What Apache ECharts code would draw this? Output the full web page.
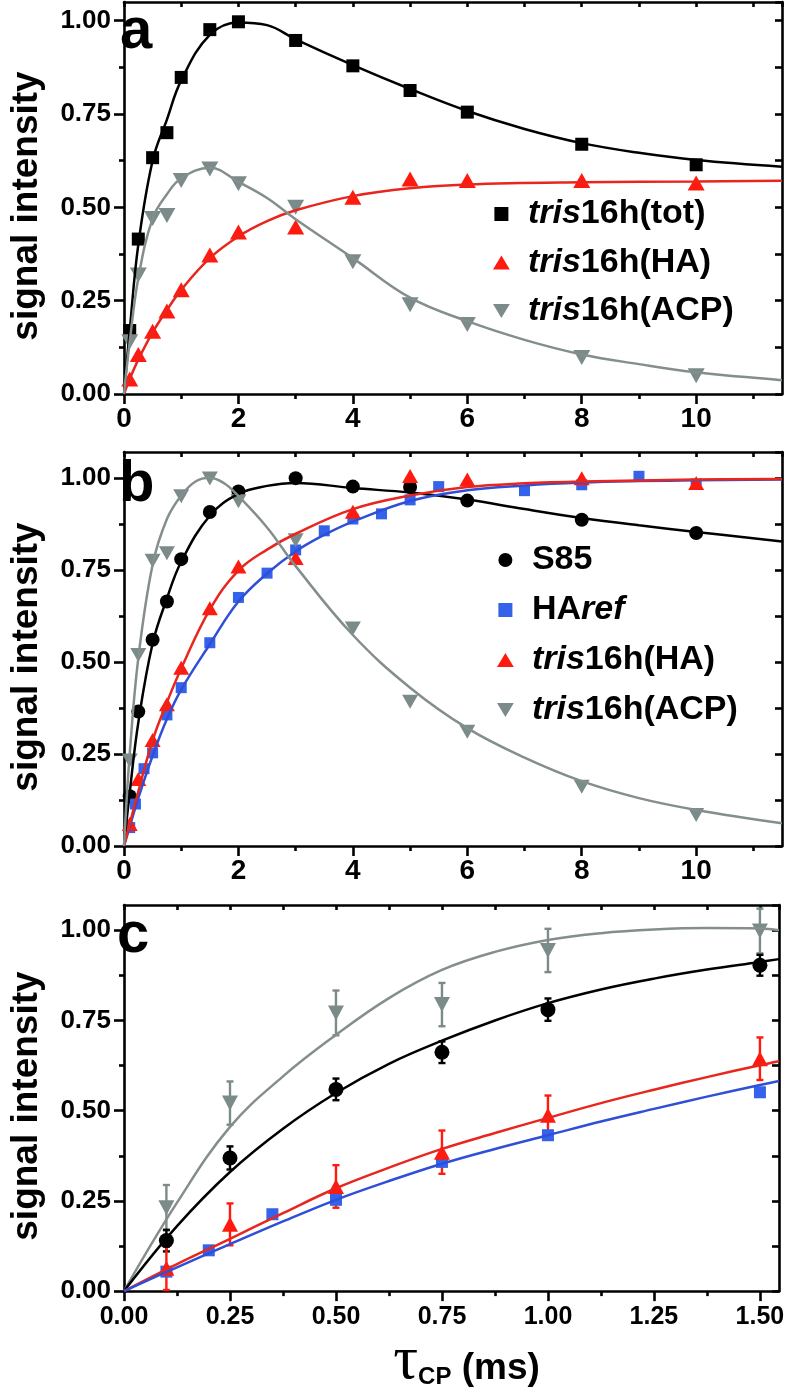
<!DOCTYPE html>
<html><head><meta charset="utf-8">
<script src="https://cdn.jsdelivr.net/npm/echarts@6/dist/echarts.min.js"></script>
<style>html,body{margin:0;padding:0;background:#fff}#c{width:787px;height:1394px}</style>
</head><body><div id="c"></div>
<script>
// ---------- Panel a ----------
const aX    = [0.1, 0.25, 0.5, 0.75, 1, 1.5, 2, 3, 4, 5, 6, 8, 10];
const aTot  = [0.17, 0.415, 0.633, 0.70, 0.848, 0.976, 0.997, 0.947, 0.879, 0.813, 0.755, 0.669, 0.614];
const aHA   = [0.04, 0.106, 0.168, 0.222, 0.279, 0.372, 0.434, 0.447, 0.527, 0.576, 0.572, 0.572, 0.565];
const aACP  = [0.14, 0.319, 0.47, 0.478, 0.572, 0.603, 0.563, 0.50, 0.354, 0.239, 0.186, 0.098, 0.049];
const aTotFit = [[0,0],[0.1,0.17],[0.25,0.40],[0.5,0.625],[0.75,0.735],[1,0.84],[1.5,0.962],[2,0.995],[2.5,0.988],[3,0.95],[4,0.881],[5,0.817],[6,0.758],[7,0.71],[8,0.672],[9,0.646],[10,0.627],[11.5,0.609]];
const aHAFit  = [[0,0],[0.1,0.04],[0.25,0.092],[0.5,0.165],[0.75,0.225],[1,0.279],[1.5,0.364],[2,0.422],[2.5,0.463],[3,0.492],[4,0.53],[5,0.551],[6,0.561],[8,0.567],[10,0.569],[11.5,0.571]];
const aACPFit = [[0,0],[0.1,0.14],[0.25,0.31],[0.5,0.47],[0.75,0.535],[1,0.578],[1.5,0.606],[2,0.568],[2.5,0.525],[3,0.468],[4,0.364],[5,0.258],[6,0.195],[7,0.145],[8,0.106],[9,0.08],[10,0.058],[11.5,0.037]];

// ---------- Panel b ----------
const bX    = [0.1, 0.25, 0.5, 0.75, 1, 1.5, 2, 3, 4, 5, 6, 8, 10];
const bS85  = [0.135, 0.365, 0.56, 0.664, 0.779, 0.907, 0.963, 0.999, 0.976, 0.975, 0.938, 0.886, 0.85];
const bHA   = [0.06, 0.182, 0.288, 0.385, 0.484, 0.646, 0.759, 0.782, 0.908, 1.005, 0.995, 0.999, 0.986];
const bACP  = [0.232, 0.519, 0.775, 0.795, 0.95, 0.998, 0.936, 0.83, 0.591, 0.392, 0.31, 0.161, 0.084];
const bRefX = [0.1, 0.2, 0.35, 0.5, 0.75, 1, 1.5, 2, 2.5, 3, 3.5, 4, 4.5, 5, 5.5, 7, 8, 9, 10];
const bRef  = [0.05, 0.114, 0.21, 0.253, 0.356, 0.43, 0.552, 0.675, 0.741, 0.804, 0.856, 0.888, 0.902, 0.94, 0.976, 0.965, 0.981, 1.004, 0.983];
const bS85Fit = [[0,0],[0.1,0.145],[0.25,0.335],[0.5,0.55],[0.75,0.672],[1,0.772],[1.5,0.897],[2,0.956],[2.5,0.978],[3,0.986],[4,0.972],[5,0.96],[6,0.941],[7,0.915],[8,0.891],[9,0.871],[10,0.853],[11.5,0.827]];
const bRefFit = [[0,0],[0.1,0.052],[0.25,0.13],[0.5,0.245],[0.75,0.345],[1,0.425],[1.5,0.548],[2,0.664],[2.5,0.74],[3,0.8],[3.5,0.845],[4,0.881],[5,0.937],[6,0.966],[7,0.979],[8,0.987],[9,0.991],[10,0.993],[11.5,0.995]];
const bHAFit  = [[0,0],[0.1,0.06],[0.25,0.148],[0.5,0.287],[0.75,0.39],[1,0.482],[1.5,0.642],[2,0.748],[2.5,0.805],[3,0.848],[4,0.915],[5,0.952],[6,0.975],[7,0.985],[8,0.99],[10,0.995],[11.5,0.997]];
const bACPFit = [[0,0],[0.1,0.25],[0.25,0.51],[0.5,0.764],[0.75,0.888],[1,0.952],[1.25,0.99],[1.5,1.0],[1.75,0.985],[2,0.95],[2.5,0.865],[3,0.76],[4,0.573],[5,0.43],[6,0.32],[7,0.24],[8,0.176],[9,0.13],[10,0.098],[11.5,0.062]];

// ---------- Panel c ----------
const cX      = [0.1, 0.25, 0.5, 0.75, 1, 1.5];
const cS85    = [0.14, 0.369, 0.559, 0.662, 0.78, 0.903];
const cS85Err = [0.03, 0.032, 0.03, 0.03, 0.031, 0.029];
const cACP    = [0.231, 0.521, 0.771, 0.794, 0.944, 0.998];
const cACPErr = [0.063, 0.06, 0.062, 0.06, 0.06, 0.062];
const cHA     = [0.063, 0.185, 0.29, 0.385, 0.487, 0.644];
const cHAErr  = [0.06, 0.058, 0.059, 0.06, 0.055, 0.059];
const cRefX   = [0.1, 0.2, 0.35, 0.5, 0.75, 1, 1.5];
const cRef    = [0.054, 0.113, 0.213, 0.253, 0.358, 0.432, 0.551];
const cACPFit = [[0,0],[0.125,0.245],[0.25,0.455],[0.375,0.595],[0.5,0.71],[0.625,0.812],[0.75,0.89],[0.875,0.94],[1,0.973],[1.125,0.992],[1.25,1.002],[1.375,1.006],[1.5,1.005],[1.545,1.0]];
const cS85Fit = [[0,0],[0.125,0.18],[0.25,0.33],[0.375,0.45],[0.5,0.549],[0.625,0.63],[0.75,0.694],[0.875,0.75],[1,0.798],[1.125,0.836],[1.25,0.866],[1.375,0.891],[1.5,0.912],[1.545,0.92]];
const cHAFit  = [[0,0],[0.125,0.075],[0.25,0.145],[0.375,0.216],[0.5,0.285],[0.625,0.342],[0.75,0.394],[0.875,0.438],[1,0.48],[1.125,0.521],[1.25,0.558],[1.375,0.593],[1.5,0.626],[1.545,0.637]];
const cRefFit = [[0,0],[0.125,0.066],[0.25,0.13],[0.375,0.193],[0.5,0.253],[0.625,0.305],[0.75,0.353],[0.875,0.394],[1,0.432],[1.125,0.47],[1.25,0.505],[1.375,0.539],[1.5,0.571],[1.545,0.582]];

// ---------- Ticks / labels ----------
const abXTicks = [0, 2, 4, 6, 8, 10];
const abXMinor = [1, 3, 5, 7, 9, 11];
const cXTicks  = [0, 0.25, 0.5, 0.75, 1, 1.25, 1.5];
const cXMinor  = [0.125, 0.375, 0.625, 0.875, 1.125, 1.375];
const yTicks   = [0, 0.25, 0.5, 0.75, 1];
const yMinor   = [0.125, 0.375, 0.625, 0.875];
const panelLetters = ['a', 'b', 'c'];
const yTitle = 'signal intensity';
const legendA = ['tris16h(tot)', 'tris16h(HA)', 'tris16h(ACP)'];
const legendB = ['S85', 'HAref', 'tris16h(HA)', 'tris16h(ACP)'];

// ---------- Styles ----------
const FONT = '"Liberation Sans", Arial, Helvetica, sans-serif';
const BLACK = '#000000', RED = '#ff1a10', REDL = '#e8261d', BLUE = '#3462ea', BLUEL = '#2f4fd6', GRAY = '#7b8b89', GRAYL = '#848e8d';
const AX = {color: '#000', width: 2.6};

const zip = (xs, ys) => xs.map((x, i) => [x, ys[i]]);

function xAxesFor(g, max, ticks, minors, fmt, fs, margin, topInterval, extra) {
  return [
    Object.assign({type: 'value', gridIndex: g, position: 'bottom', min: 0, max: max,
      axisLine: {show: true, onZero: false, lineStyle: AX},
      axisTick: {show: true, length: 10, lineStyle: AX, customValues: ticks},
      axisLabel: {show: true, customValues: ticks, formatter: fmt, fontSize: fs, fontWeight: 'bold', fontFamily: FONT, color: '#000', margin: margin},
      splitLine: {show: false}}, extra || {}),
    {type: 'value', gridIndex: g, position: 'bottom', min: 0, max: max,
      axisLine: {show: false, onZero: false},
      axisTick: {show: true, length: 5, lineStyle: AX, customValues: minors},
      axisLabel: {show: false}, splitLine: {show: false}},
    {type: 'value', gridIndex: g, position: 'top', min: 0, max: max, interval: topInterval,
      axisLine: {show: true, onZero: false, lineStyle: AX},
      axisTick: {show: true, inside: true, length: 5, lineStyle: AX},
      axisLabel: {show: false}, splitLine: {show: false}}
  ];
}
function yAxesFor(g, max) {
  return [
    {type: 'value', gridIndex: g, position: 'left', min: 0, max: max,
      axisLine: {show: true, onZero: false, lineStyle: AX},
      axisTick: {show: true, length: 10, lineStyle: AX, customValues: yTicks},
      axisLabel: {show: true, customValues: yTicks, formatter: v => v.toFixed(2), fontSize: 26, fontWeight: 'bold', fontFamily: FONT, color: '#000', margin: 13},
      splitLine: {show: false},
      name: yTitle, nameLocation: 'middle', nameGap: 79, nameRotate: 90,
      nameTextStyle: {fontSize: 37, fontWeight: 'bold', fontFamily: FONT, color: '#000', padding: [0, 16, 0, 0]}},
    {type: 'value', gridIndex: g, position: 'left', min: 0, max: max,
      axisLine: {show: false, onZero: false},
      axisTick: {show: true, length: 5, lineStyle: AX, customValues: yMinor},
      axisLabel: {show: false}, splitLine: {show: false}},
    {type: 'value', gridIndex: g, position: 'right', min: 0, max: max, interval: 0.125,
      axisLine: {show: true, onZero: false, lineStyle: AX},
      axisTick: {show: true, inside: true, length: 7, lineStyle: AX},
      axisLabel: {show: false}, splitLine: {show: false}}
  ];
}

function scatter(g, name, data, symbol, size, color, rotate) {
  return {type: 'scatter', name: name, xAxisIndex: 3 * g, yAxisIndex: 3 * g, data: data,
    symbol: symbol, symbolSize: size, symbolRotate: rotate || 0,
    itemStyle: {color: color, opacity: 1}, z: 3, silent: true};
}
function fit(g, data, color) {
  return {type: 'line', xAxisIndex: 3 * g, yAxisIndex: 3 * g, data: data, smooth: 0.4,
    showSymbol: false, symbol: 'none', lineStyle: {color: color, width: 2.5}, z: 4, silent: true};
}
function errBars(g, xs, ys, es, color) {
  return {type: 'custom', xAxisIndex: 3 * g, yAxisIndex: 3 * g, silent: true, z: 2,
    data: xs.map((x, i) => [x, ys[i] - es[i], ys[i] + es[i]]),
    encode: {x: 0, y: [1, 2]},
    renderItem: function (params, api) {
      const lo = api.coord([api.value(0), api.value(1)]);
      const hi = api.coord([api.value(0), api.value(2)]);
      const w = 3.5;
      const st = {stroke: color, lineWidth: 2.4};
      return {type: 'group', children: [
        {type: 'line', shape: {x1: lo[0], y1: lo[1], x2: hi[0], y2: hi[1]}, style: st},
        {type: 'line', shape: {x1: hi[0] - w, y1: hi[1], x2: hi[0] + w, y2: hi[1]}, style: st},
        {type: 'line', shape: {x1: lo[0] - w, y1: lo[1], x2: lo[0] + w, y2: lo[1]}, style: st}
      ]};
    }};
}

const ICON = {
  square: 'path://M0,0H10V10H0Z',
  circle: 'path://M5,0A5,5,0,1,1,5,10A5,5,0,1,1,5,0Z',
  up: 'path://M6,0L12,10H0Z',
  down: 'path://M0,0H12L6,10Z'
};
const legendIcon = {'tris16h(tot)': ICON.square, 'tris16h(HA)': ICON.up, 'tris16h(ACP)': ICON.down, 'S85': ICON.circle, 'HAref': ICON.square};
const legendRich = {
  i: {fontStyle: 'italic', fontWeight: 'bold', fontSize: 34, fontFamily: FONT, color: '#000', lineHeight: 36},
  n: {fontWeight: 'bold', fontSize: 34, fontFamily: FONT, color: '#000', lineHeight: 36}
};
function legendLabel(name) {
  if (name.indexOf('tris') === 0) return '{i|tris}{n|' + name.slice(4) + '}';
  if (name === 'HAref') return '{n|HA}{i|ref}';
  return '{n|' + name + '}';
}
function legendFor(names, left, top, gap) {
  return {orient: 'vertical', left: left, top: top, padding: 0, itemGap: gap, itemWidth: 17, itemHeight: 14,
    selectedMode: false, formatter: legendLabel,
    textStyle: {rich: legendRich, padding: [0, 0, 0, 13]},
    data: names.map(n => ({name: n, icon: legendIcon[n]}))};
}

const fmtInt = v => String(v);
const fmt2 = v => v.toFixed(2);
const letterStyle = {fontSize: 58, fontWeight: 'bold', fontFamily: FONT, color: '#000'};

const option = {
  animation: false,
  backgroundColor: '#fff',
  title: [
    {text: panelLetters[0], left: 120, top: 3, padding: 0, textStyle: letterStyle},
    {text: panelLetters[1], left: 119, top: 456, padding: 0, textStyle: letterStyle},
    {text: panelLetters[2], left: 117, top: 907, padding: 0, textStyle: letterStyle}
  ],
  legend: [legendFor(legendA, 493, 197, 14.5), legendFor(legendB, 497, 543, 16)],
  grid: [
    {left: 116, top: 2, width: 666, height: 392},
    {left: 116, top: 452, width: 666, height: 394},
    {left: 115, top: 905, width: 667, height: 393}
  ],
  xAxis: [].concat(
    xAxesFor(0, 11.5, abXTicks, abXMinor, fmtInt, 28, 11, 1),
    xAxesFor(1, 11.5, abXTicks, abXMinor, fmtInt, 28, 11, 1),
    xAxesFor(2, 1.545, cXTicks, cXMinor, fmt2, 25, 14, 0.125, {
      name: '{t|τ}{s|CP}{m| (ms)}', nameLocation: 'middle', nameGap: 22,
      nameTextStyle: {padding: [0, 0, 0, 30], rich: {
        t: {fontFamily: '"Liberation Serif", "DejaVu Serif", serif', fontSize: 62, color: '#000', padding: [0, 0, 14, 0]},
        s: {fontFamily: FONT, fontSize: 24, fontWeight: 'bold', color: '#000', padding: [16, 0, 0, 0]},
        m: {fontFamily: FONT, fontSize: 37, fontWeight: 'bold', color: '#000'}
      }}
    })
  ),
  yAxis: [].concat(yAxesFor(0, 1.05), yAxesFor(1, 1.07), yAxesFor(2, 1.07)),
  series: [
    // panel a
    fit(0, aTotFit, BLACK), fit(0, aHAFit, REDL), fit(0, aACPFit, GRAYL),
    scatter(0, 'tris16h(tot)', zip(aX, aTot), 'rect', 13, BLACK),
    scatter(0, 'tris16h(HA)', zip(aX, aHA), 'triangle', [17, 15], RED),
    scatter(0, 'tris16h(ACP)', zip(aX, aACP), 'triangle', [17, 15], GRAY, 180),
    // panel b
    fit(1, bS85Fit, BLACK), fit(1, bRefFit, BLUEL), fit(1, bHAFit, REDL), fit(1, bACPFit, GRAYL),
    scatter(1, 'S85', zip(bX, bS85), 'circle', 14, BLACK),
    scatter(1, 'HAref', zip(bRefX, bRef), 'rect', 11, BLUE),
    scatter(1, 'tris16h(HA)', zip(bX, bHA), 'triangle', [16, 14], RED),
    scatter(1, 'tris16h(ACP)', zip(bX, bACP), 'triangle', [16, 14], GRAY, 180),
    // panel c
    errBars(2, cX, cACP, cACPErr, GRAY), errBars(2, cX, cS85, cS85Err, BLACK), errBars(2, cX, cHA, cHAErr, RED),
    fit(2, cACPFit, GRAYL), fit(2, cS85Fit, BLACK), fit(2, cHAFit, REDL), fit(2, cRefFit, BLUEL),
    scatter(2, 'S85', zip(cX, cS85), 'circle', 15, BLACK),
    scatter(2, 'HAref', zip(cRefX, cRef), 'rect', 12, BLUE),
    scatter(2, 'tris16h(HA)', zip(cX, cHA), 'triangle', [16, 15], RED),
    scatter(2, 'tris16h(ACP)', zip(cX, cACP), 'triangle', [16, 15], GRAY, 180)
  ]
};
const chart = echarts.init(document.getElementById('c'), null, {renderer: 'canvas'});
chart.setOption(option);
</script></body></html>
